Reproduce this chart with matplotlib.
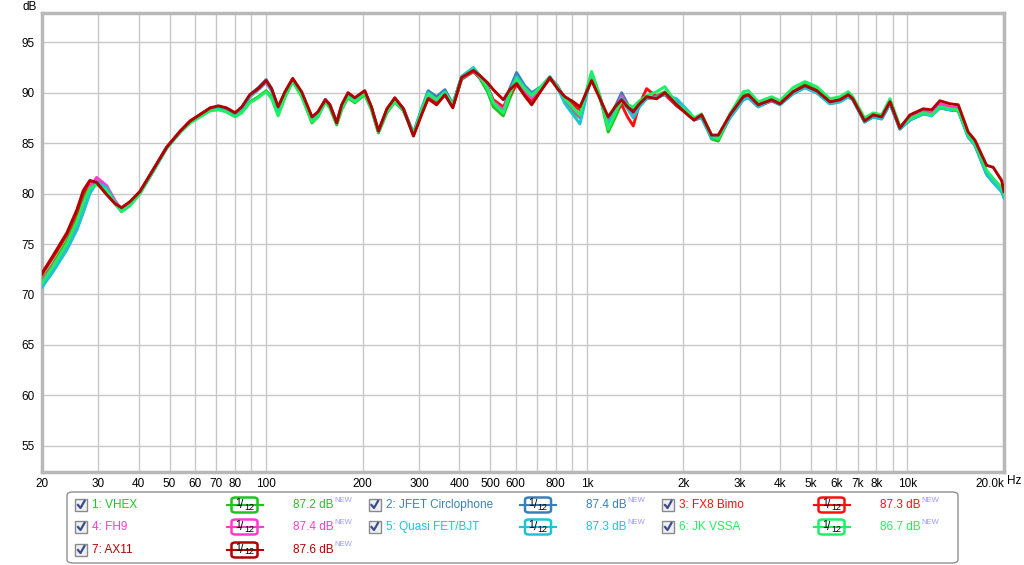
import matplotlib
matplotlib.use("Agg")
import matplotlib.pyplot as plt
from matplotlib.patches import FancyBboxPatch, Rectangle
from matplotlib.lines import Line2D

W, H = 1024, 565

# frequency grid (Hz) shared by all traces
freq = [20, 21.7, 23.9, 25.7, 26.9, 28.2, 29.6, 31.8, 33.8, 35.4, 37.6, 40.4,
        44.5, 49, 54, 58, 67, 71, 75, 80, 84, 89, 94.5, 100, 104, 109, 114.5,
        121, 129, 139, 145, 153, 158, 166, 172, 180, 189, 203, 213, 224, 238,
        252, 268, 288, 306, 320, 340, 361, 382, 407, 443, 464, 490, 511, 549,
        575, 604, 640, 673, 720, 767, 810, 855, 907, 952, 1035, 1099, 1166,
        1225, 1284, 1340, 1396, 1460, 1537, 1651, 1752, 1906, 2098, 2160, 2280,
        2450, 2570, 2795, 3076, 3188, 3424, 3770, 4000, 4400, 4790, 5210, 5730,
        6160, 6540, 6750, 7350, 7820, 8310, 8820, 9470, 10180, 11200, 11900,
        12620, 13560, 14400, 15470, 16230, 17650, 18510, 19660, 20000]

vhex = [71.5, 73.1, 75.3, 77.5, 79.4, 80.8, 81.0, 80.2, 79.0, 78.3, 78.9, 80.1,
        82.3, 84.6, 86.1, 87.1, 88.3, 88.4, 88.2, 87.7, 88.1, 89.1, 89.6, 90.2, 89.6, 87.9, 89.6,
        91.2, 89.7, 87.0, 87.6, 89.1, 88.5, 86.8, 88.3, 89.5, 89.0, 89.8, 88.3, 86.0, 88.0,
        89.1, 88.2, 85.9, 88.2, 89.7, 89.1, 89.9, 88.6, 91.3, 92.1, 91.4, 90.1, 88.6, 87.7,
        89.4, 91.0, 90.1, 89.6, 90.5, 91.4, 90.5, 89.2, 88.1, 87.5, 92.0, 89.6, 86.1,
        87.5, 89.0, 88.5, 88.3, 88.9, 89.4, 89.7, 90.1, 88.7, 87.8, 87.4, 87.7,
        85.4, 85.2, 87.6, 89.8, 89.8, 88.8, 89.3, 88.9, 90.1, 90.9, 90.3, 89.1,
        89.3, 89.8, 89.4, 87.1, 87.7, 87.5, 89.0, 86.4, 87.3, 87.9, 87.8,
        88.5, 88.3, 88.2, 85.7, 84.9, 82.0, 81.2, 80.3, 79.7]

jfet = [70.9, 72.5, 74.6, 76.6, 78.3, 80.2, 81.2, 80.7, 79.2, 78.3, 78.9, 80.1,
        82.3, 84.6, 86.1, 87.1, 88.4, 88.5, 88.4, 87.9, 88.5, 89.8, 90.5, 91.3, 90.4, 88.4, 90.0,
        91.3, 89.9, 87.5, 88.0, 89.3, 88.8, 87.1, 88.7, 89.9, 89.4, 90.1, 88.5, 86.2, 88.3,
        89.4, 88.4, 86.0, 88.5, 90.2, 89.6, 90.3, 88.9, 91.6, 92.4, 91.6, 90.6, 89.2, 88.3,
        90.4, 92.0, 90.7, 90.0, 90.6, 91.5, 90.7, 89.4, 88.5, 87.8, 91.8, 89.6, 86.7,
        88.6, 90.0, 88.9, 88.0, 88.9, 89.5, 89.6, 89.9, 89.1, 87.8, 87.3, 87.5,
        85.6, 85.5, 87.5, 89.3, 89.5, 88.6, 89.2, 88.8, 89.9, 90.5, 90.0, 88.9,
        89.1, 89.6, 89.3, 87.1, 87.6, 87.4, 88.9, 86.4, 87.3, 87.9, 87.8,
        88.5, 88.3, 88.2, 85.6, 84.8, 81.9, 81.1, 80.2, 79.6]

fx8 = [72.0, 73.7, 75.9, 78.1, 80.0, 81.2, 81.1, 80.0, 79.0, 78.5, 79.1, 80.2,
       82.4, 84.6, 86.2, 87.2, 88.5, 88.6, 88.5, 88.0, 88.5, 89.7, 90.4, 91.1, 90.3, 88.5, 90.0,
       91.4, 90.0, 87.5, 88.0, 89.3, 88.8, 87.0, 88.7, 89.9, 89.4, 90.1, 88.5, 86.2, 88.3,
       89.4, 88.4, 85.8, 88.0, 89.5, 88.9, 89.8, 88.6, 91.4, 92.1, 91.5, 90.5, 89.3, 88.6,
       89.7, 90.8, 89.8, 89.1, 90.3, 91.4, 90.6, 89.4, 88.8, 88.3, 91.4, 89.5, 87.1,
       88.0, 88.8, 87.6, 86.7, 88.9, 90.4, 89.6, 89.8, 88.7, 87.7, 87.3, 87.7,
       85.7, 85.6, 87.6, 89.4, 89.6, 88.7, 89.2, 88.9, 90.0, 90.6, 90.1, 89.0,
       89.2, 89.7, 89.4, 87.2, 87.7, 87.5, 89.0, 86.5, 87.5, 88.1, 87.9,
       88.8, 88.5, 88.4, 85.8, 84.9, 82.1, 81.3, 80.4, 79.8]

fh9 = [71.3, 72.9, 74.9, 76.9, 78.7, 80.6, 81.6, 80.8, 79.3, 78.4, 78.9, 80.1,
       82.3, 84.6, 86.2, 87.2, 88.4, 88.5, 88.4, 87.9, 88.4, 89.6, 90.3, 91.0, 90.2, 88.3, 89.9,
       91.3, 89.8, 87.4, 87.9, 89.3, 88.7, 87.0, 88.6, 89.8, 89.3, 90.0, 88.5, 86.1, 88.2,
       89.3, 88.3, 85.9, 88.2, 89.8, 89.3, 89.9, 88.7, 91.4, 92.2, 91.5, 90.5, 89.1, 88.3,
       90.0, 91.3, 90.2, 89.5, 90.5, 91.5, 90.6, 89.3, 88.4, 87.6, 91.7, 89.5, 86.9,
       88.2, 89.7, 88.6, 87.9, 88.8, 89.5, 89.6, 89.9, 88.8, 87.7, 87.3, 87.6,
       85.7, 85.6, 87.6, 89.4, 89.6, 88.7, 89.2, 88.9, 90.0, 90.6, 90.1, 89.0,
       89.2, 89.7, 89.4, 87.2, 87.7, 87.5, 89.0, 86.5, 87.6, 88.2, 88.0,
       88.9, 88.6, 88.5, 85.9, 85.0, 82.1, 81.3, 80.4, 79.8]

quasi = [70.7, 72.3, 74.4, 76.4, 78.1, 80.0, 81.1, 80.6, 79.1, 78.2, 78.8, 80.0,
         82.2, 84.5, 86.1, 87.1, 88.3, 88.4, 88.3, 87.8, 88.4, 89.6, 90.3, 91.1, 90.2, 88.3, 89.9,
         91.3, 89.8, 87.4, 87.9, 89.2, 88.7, 87.0, 88.6, 89.8, 89.3, 90.0, 88.5, 86.1, 88.2,
         89.3, 88.3, 86.0, 88.4, 90.0, 89.3, 90.1, 88.8, 91.6, 92.5, 91.7, 90.5, 89.0, 88.0,
         90.1, 91.6, 90.5, 89.8, 90.6, 91.6, 90.5, 88.9, 87.8, 86.9, 91.8, 89.5, 86.9,
         88.2, 89.5, 88.4, 87.5, 88.6, 89.4, 89.5, 89.8, 89.4, 88.0, 87.4, 87.5,
         85.5, 85.5, 87.5, 89.3, 89.5, 88.6, 89.3, 88.8, 89.9, 90.5, 90.0, 88.9,
         89.1, 89.6, 89.3, 87.1, 87.6, 87.4, 88.9, 86.4, 87.3, 87.9, 87.7,
         88.5, 88.3, 88.2, 85.6, 84.8, 81.9, 81.1, 80.2, 79.6]

jkvssa = [71.1, 72.8, 75.0, 77.2, 79.0, 80.5, 80.9, 80.3, 79.0, 78.2, 78.8, 80.0,
          82.3, 84.5, 86.1, 87.0, 88.2, 88.3, 88.1, 87.6, 88.0, 89.0, 89.5, 90.1, 89.4, 87.7, 89.5,
          91.1, 89.6, 87.1, 87.6, 89.1, 88.5, 86.9, 88.4, 89.6, 89.1, 89.9, 88.4, 86.1, 88.1,
          89.1, 88.2, 85.9, 88.3, 89.9, 89.3, 90.0, 88.8, 91.5, 92.3, 91.6, 90.4, 89.0, 88.0,
          89.8, 91.4, 90.4, 89.7, 90.6, 91.5, 90.6, 89.4, 88.5, 87.8, 92.1, 89.7, 86.4,
          87.9, 89.2, 88.8, 88.6, 89.2, 89.7, 90.1, 90.6, 88.9, 87.9, 87.5, 87.9,
          85.8, 85.4, 87.9, 90.1, 90.2, 89.1, 89.6, 89.2, 90.5, 91.1, 90.6, 89.4,
          89.6, 90.1, 89.6, 87.5, 88.0, 87.8, 89.4, 86.7, 87.4, 88.0, 87.8,
          88.6, 88.4, 88.3, 85.8, 85.0, 82.3, 81.5, 80.6, 79.9]

ax11 = [72.1, 73.9, 76.1, 78.4, 80.3, 81.3, 81.1, 79.9, 79.0, 78.6, 79.2, 80.2,
        82.4, 84.6, 86.2, 87.2, 88.5, 88.7, 88.5, 88.0, 88.6, 89.8, 90.4, 91.2, 90.4, 88.6, 90.1,
        91.4, 90.1, 87.6, 88.1, 89.3, 88.8, 87.0, 88.8, 90.0, 89.5, 90.2, 88.6, 86.2, 88.4,
        89.5, 88.4, 85.7, 87.9, 89.4, 88.8, 89.8, 88.5, 91.5, 92.2, 91.7, 91.0, 90.3, 89.3,
        90.3, 90.9, 89.7, 88.8, 90.2, 91.5, 90.4, 89.6, 89.1, 88.6, 91.2, 89.4, 87.6,
        88.6, 89.3, 88.6, 88.1, 88.9, 89.6, 89.4, 90.0, 88.8, 87.6, 87.3, 87.8,
        85.8, 85.8, 87.8, 89.6, 89.8, 88.8, 89.3, 88.9, 90.1, 90.7, 90.2, 89.1,
        89.3, 89.8, 89.4, 87.2, 87.8, 87.6, 89.1, 86.5, 87.8, 88.4, 88.3,
        89.2, 88.9, 88.8, 86.1, 85.3, 82.8, 82.6, 81.3, 80.2]

names = ["1: VHEX", "2: JFET Circlophone", "3: FX8 Bimo", "4: FH9",
         "5: Quasi FET/BJT", "6: JK VSSA", "7: AX11"]
levels = ["87.2 dB", "87.4 dB", "87.3 dB", "87.4 dB", "87.3 dB", "86.7 dB", "87.6 dB"]
colors = ["#1fc41f", "#3a80b8", "#ff1010", "#ff3ccc", "#1cc4d4", "#1ef064", "#b00000"]
series = [vhex, jfet, fx8, fh9, quasi, jkvssa, ax11]

y_ticks = [55, 60, 65, 70, 75, 80, 85, 90, 95]
x_ticks = [20, 30, 40, 50, 60, 70, 80, 100, 200, 300, 400, 500, 600, 800,
           1000, 2000, 3000, 4000, 5000, 6000, 7000, 8000, 10000, 20000]
x_labels = ["20", "30", "40", "50", "60", "70", "80", "100", "200", "300", "400",
            "500", "600", "800", "1k", "2k", "3k", "4k", "5k", "6k", "7k", "8k",
            "10k", "20.0k"]
x_grid = [20, 30, 40, 50, 60, 70, 80, 90, 100, 200, 300, 400, 500, 600, 700,
          800, 900, 1000, 2000, 3000, 4000, 5000, 6000, 7000, 8000, 9000, 10000, 20000]

plt.rcParams['font.family'] = ['Liberation Sans', 'DejaVu Sans']

fig = plt.figure(figsize=(W / 100, H / 100), dpi=100)
fig.patch.set_facecolor("white")
ax = fig.add_axes([42 / W, 1 - 472 / H, (1004 - 42) / W, (472 - 13) / H])
ax.set_xscale("log")
ax.set_xlim(20, 20000)
ax.set_ylim(52.4, 97.9)

for g in x_grid:
    ax.axvline(g, color="#c8c8c8", lw=1.0, zorder=0)
for g in y_ticks:
    ax.axhline(g, color="#c8c8c8", lw=1.0, zorder=0)

for s, c in zip(series, colors):
    ax.plot(freq, s, color=c, lw=2.1, solid_joinstyle="round", zorder=3)

ax.set_yticks(y_ticks)
ax.set_yticklabels([str(v) for v in y_ticks], fontsize=8.5)
ax.set_xticks(x_ticks)
ax.set_xticklabels(x_labels, fontsize=8.5)
ax.xaxis.set_minor_locator(matplotlib.ticker.NullLocator())
ax.tick_params(length=0, pad=5)
ax.tick_params(axis="x", pad=4)
ax.get_xticklabels()[-1].set_ha("right")
for sp in ax.spines.values():
    sp.set_color("#b8b8b8")
    sp.set_linewidth(2.5)


def px(x, y):
    return x / W, 1 - y / H


fig.text(*px(30, 7), "dB", fontsize=8.5, ha="center", va="center")
fig.text(*px(1007, 481), "Hz", fontsize=8.5, ha="left", va="center")

# legend panel
box = FancyBboxPatch(px(67, 563), (958 - 67) / W, (563 - 492) / H,
                     boxstyle="round,pad=0,rounding_size=0.006",
                     transform=fig.transFigure, facecolor="white",
                     edgecolor="#909090", lw=1.0)
fig.patches.append(box)

renderer = fig.canvas.get_renderer()
rows_y = [505, 527, 550]
col_dx = 293.5
for i, (nm, lv, c) in enumerate(zip(names, levels, colors)):
    r, k = divmod(i, 3)
    y = rows_y[r]
    x0 = 75 + k * col_dx
    # checkbox
    fig.patches.append(Rectangle(px(x0, y + 6), 12 / W, 12 / H, transform=fig.transFigure,
                                 facecolor="#eef0f4", edgecolor="#8a8a8a", lw=1.0))
    fig.lines.append(Line2D([(x0 + 3) / W, (x0 + 5.5) / W, (x0 + 9.5) / W],
                            [1 - (y) / H, 1 - (y + 3) / H, 1 - (y - 4) / H],
                            transform=fig.transFigure, color="#3c4c8c", lw=1.6))
    fig.text(*px(x0 + 17, y), nm, color=c, fontsize=8.5, ha="left", va="center")
    # smoothing icon
    cx = 244.5 + k * col_dx
    fig.lines.append(Line2D([(cx - 18) / W, (cx + 18) / W], [1 - y / H, 1 - y / H],
                            transform=fig.transFigure, color=c, lw=1.5))
    fig.patches.append(FancyBboxPatch(px(cx - 13, y + 7.5), 26 / W, 15 / H,
                                      boxstyle="round,pad=0,rounding_size=0.004",
                                      transform=fig.transFigure, facecolor="white",
                                      edgecolor=c, lw=1.8))
    fig.text(*px(cx - 6.5, y - 2), "1", fontsize=7.5, ha="center", va="center")
    fig.text(*px(cx - 2.5, y), "/", fontsize=8.5, ha="center", va="center")
    fig.text(*px(cx + 4.5, y + 2), "12", fontsize=6.5, ha="center", va="center")
    # level with superscript marker
    vx = 293 + k * col_dx
    t = fig.text(*px(vx, y), lv, color=c, fontsize=8.5, ha="left", va="center")
    bb = t.get_window_extent(renderer)
    fig.text(bb.x1 / W + 0.5 / W, 1 - (y - 5) / H, "NEW", color="#9a9aff",
             fontsize=5.5, ha="left", va="center")

fig.savefig("out.png", dpi=100, facecolor="white")
